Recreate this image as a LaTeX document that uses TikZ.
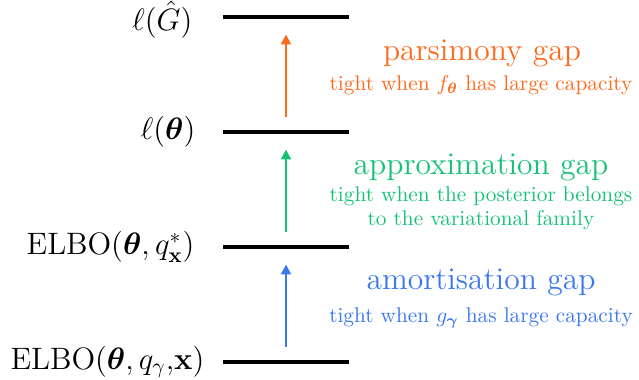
\documentclass[tikz,border=0pt]{standalone}
\usepackage{amsmath}
\usetikzlibrary{arrows.meta}
\definecolor{parsi}{HTML}{FF6A1A}
\definecolor{approx}{HTML}{14C275}
\definecolor{amort}{HTML}{3A78F0}

\begin{document}
\begin{tikzpicture}[
  x=0.465pt, y=-0.465pt,
  bar/.style={fill=black, inner sep=0pt, minimum width=58.6pt, minimum height=1.9pt},
  gaparr/.style={-{Triangle[length=4.6pt, width=4.6pt]}, line width=1.2pt,
                 shorten <=6pt, shorten >=7pt},
  lvl/.style={anchor=east, inner sep=1pt, font=\fontsize{13.9}{16}\selectfont},
  gapname/.style={inner sep=0pt, font=\fontsize{14.7}{17}\selectfont},
  gapnote/.style={inner sep=0pt, align=center, font=\fontsize{9.9}{11}\selectfont}
]
\useasboundingbox (0,0) rectangle (639,379);

\node[bar] (ghat) at (286,17) {};
\node[bar] (lik) at (286,132) {};
\node[bar] (elbostar) at (286,247) {};
\node[bar] (elboamo) at (286,362) {};

\node[lvl] (lghat) at (195,20) {$\ell(\hat{G})$};
\node[lvl] (llik) at (198,132) {$\ell(\boldsymbol{\theta})$};
\node[lvl] (lstar) at (197,247) {$\mathrm{ELBO}(\boldsymbol{\theta}, q^*_{\mathbf{x}})$};
\node[lvl] (lamo) at (207,362) {$\mathrm{ELBO}(\boldsymbol{\theta}, q_{\gamma}{,}\mathbf{x})$};

\draw[gaparr, draw=parsi, fill=parsi] (lik) -- (ghat);
\draw[gaparr, draw=approx, fill=approx] (elbostar) -- (lik);
\draw[gaparr, draw=amort, fill=amort] (elboamo) -- (elbostar);

\node[gapname, text=parsi] (pname) at (482,53) {parsimony gap};
\node[gapnote, text=parsi] (pnote) at (481,85) {tight when $f_{\boldsymbol{\theta}}$ has large capacity};
\node[gapname, text=approx] (aname) at (481,167) {approximation gap};
\node[gapnote, text=approx] (anote) at (481,208) {tight when the posterior belongs\\ to the variational family};
\node[gapname, text=amort] (mname) at (481,282) {amortisation gap};
\node[gapnote, text=amort] (mnote) at (481,318) {tight when $g_{\boldsymbol{\gamma}}$ has large capacity};
\end{tikzpicture}
\end{document}
